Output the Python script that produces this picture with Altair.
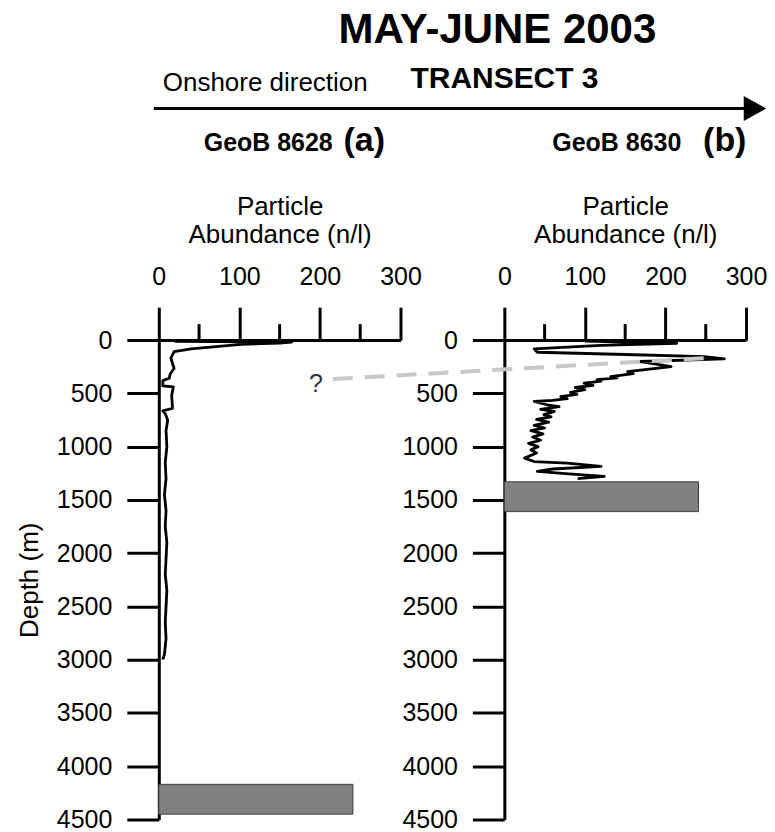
import altair as alt
import pandas as pd

FONT = "Liberation Sans"

# ---- data ----
# GeoB 8628 (a): particle abundance (n/l) vs depth (m)
a_val = [20, 165, 150, 102, 40, 19, 15, 17, 19, 14, 13, 5, 5, 18, 16, 17, 5, 8, 11, 9,
         10, 8, 9, 7, 9, 8, 10, 9, 8, 10, 9, 8, 9, 7, 5]
a_depth = [12, 18, 28, 40, 83, 108, 170, 220, 264, 320, 358, 380, 430, 440, 520, 640, 663, 690, 750, 850,
           1000, 1150, 1300, 1450, 1600, 1750, 1900, 2050, 2200, 2350, 2500, 2650, 2800, 2950, 3000]

# GeoB 8630 (b)
b_val = [100, 214, 120, 37, 41, 150, 248, 273, 169, 207,
         153, 160, 132, 140, 115, 120, 99, 110, 88, 100,
         82, 90, 70, 78, 60, 37, 53, 68, 45, 62,
         49, 58, 40, 55, 37, 50, 33, 48, 35, 45,
         30, 42, 33, 40, 25, 37, 78, 120, 60, 41,
         80, 124, 91]
b_depth = [10, 30, 50, 83, 114, 135, 155, 176, 201, 248,
           295, 315, 342, 355, 370, 385, 405, 425, 445, 465,
           490, 510, 530, 550, 565, 576, 607, 625, 650, 670,
           700, 720, 745, 770, 800, 825, 850, 880, 910, 940,
           970, 1000, 1030, 1060, 1108, 1140, 1155, 1186, 1210, 1233,
           1255, 1280, 1301]

major_ticks = [0, 100, 200, 300]
minor_ticks = [50, 150, 250]
depth_ticks = [0, 500, 1000, 1500, 2000, 2500, 3000, 3500, 4000, 4500]

# sea floor boxes: x from, x to, depth from, depth to
floor_a = [0, 241, 4170, 4450]
floor_b = [0, 241, 1330, 1610]

# dashed correlation line (in panel b units) and "?" marker
link_val = [-213, 248]
link_depth = [366, 169]
q_val = [-234]
q_depth = [412]

x_scale = alt.Scale(domain=[0, 300], nice=False, zero=False)
y_scale = alt.Scale(domain=[0, 4500], reverse=True, nice=False, zero=False)


def x_axis():
    return alt.Axis(orient="top", values=major_ticks, tickSize=33, labelPadding=18, format="d",
                    title=["Particle", "Abundance (n/l)"], titleFontSize=26,
                    titleLineHeight=28, titlePadding=17)


def y_axis(with_title):
    if with_title:
        return alt.Axis(values=depth_ticks, tickSize=32, labelPadding=15, format="d",
                        title="Depth (m)", titleFontSize=26, titlePadding=14)
    return alt.Axis(values=depth_ticks, tickSize=32, labelPadding=15, format="d", title=None)


def panel(vals, depths, floor, with_title):
    df = pd.DataFrame({"v": vals, "d": depths, "i": list(range(len(vals)))})
    X = alt.X("v:Q", scale=x_scale, axis=x_axis())
    Y = alt.Y("d:Q", scale=y_scale, axis=y_axis(with_title))
    line = alt.Chart(df).mark_line(color="black", strokeWidth=2.8, strokeJoin="round").encode(
        x=X, y=Y, order="i:Q")
    fdf = pd.DataFrame({"v": [floor[0]], "v2": [floor[1]], "d": [floor[2]], "d2": [floor[3]]})
    rect = alt.Chart(fdf).mark_rect(color="#808080", stroke="#404040", strokeWidth=1).encode(
        x=X, x2="v2:Q", y=Y, y2="d2:Q")
    mdf = pd.DataFrame({"v": minor_ticks})
    minor = alt.Chart(mdf).mark_rule(color="black", strokeWidth=3).encode(
        x=X, y=alt.value(0), y2=alt.value(-16))
    return [rect, line, minor]


one = pd.DataFrame({"k": [0]})


def label(text, x, y, size, bold=True, align="left"):
    return alt.Chart(one).mark_text(
        text=text, font=FONT, fontSize=size, fontWeight="bold" if bold else "normal",
        align=align, baseline="alphabetic", color="black").encode(
        x=alt.value(x), y=alt.value(y))


# annotations positioned relative to panel (a) plot origin
arrow_line = alt.Chart(one).mark_rule(color="black", strokeWidth=3).encode(
    x=alt.value(-5), x2=alt.value(594), y=alt.value(-232))
arrow_head = alt.Chart(one).mark_point(
    shape="M -0.9 -1 L 0.9 0 L -0.9 1 Z", filled=True, size=625, color="black", opacity=1).encode(
    x=alt.value(597), y=alt.value(-232))

annots = [
    label("MAY-JUNE 2003", 339, -297, 42, True, "center"),
    label("Onshore direction", 4, -249, 26, False),
    label("TRANSECT 3", 252, -252, 30, True),
    arrow_line, arrow_head,
    label("GeoB 8628", 45, -189, 25, True),
    label("(a)", 185, -189, 34, True),
    label("GeoB 8630", 394, -189, 25, True),
    label("(b)", 545, -189, 34, True),
]

left = alt.layer(*panel(a_val, a_depth, floor_a, True), *annots).properties(width=242, height=480)

ldf = pd.DataFrame({"v": link_val, "d": link_depth})
link = alt.Chart(ldf).mark_line(color="#c8c8c8", strokeWidth=4, strokeDash=[20, 12]).encode(
    x=alt.X("v:Q", scale=x_scale, axis=x_axis()),
    y=alt.Y("d:Q", scale=y_scale, axis=y_axis(False)))
qdf = pd.DataFrame({"v": q_val, "d": q_depth})
qmark = alt.Chart(qdf).mark_text(text="?", font=FONT, fontSize=25, color="#333333",
                                 align="center", baseline="middle").encode(
    x=alt.X("v:Q", scale=x_scale, axis=x_axis()),
    y=alt.Y("d:Q", scale=y_scale, axis=y_axis(False)))

right = alt.layer(*panel(b_val, b_depth, floor_b, False), link, qmark).properties(width=242, height=480)

chart = alt.hconcat(left, right, spacing=104, bounds="flush").properties(
    padding={"left": 8, "top": 1, "right": 0, "bottom": 0}
).configure_view(
    strokeWidth=0
).configure_axis(
    domainColor="black", domainWidth=3, tickColor="black", tickWidth=3,
    labelFont=FONT, labelFontSize=25, labelColor="black",
    titleFont=FONT, titleColor="black", titleFontWeight="normal",
    grid=False, labelFlush=False, labelOverlap=False
)

chart.save("out.html", embed_options={"renderer": "svg", "actions": False})
